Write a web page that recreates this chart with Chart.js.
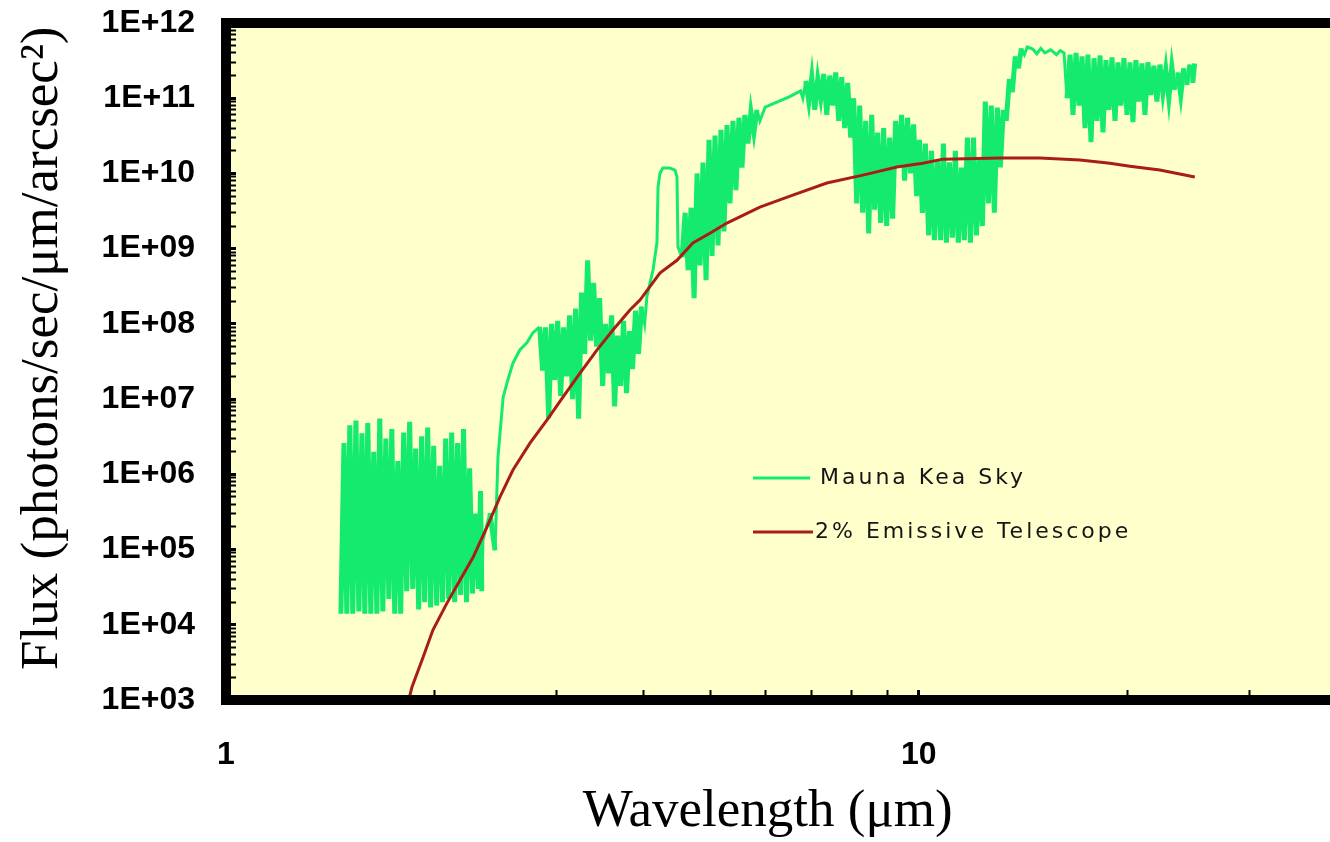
<!DOCTYPE html>
<html><head><meta charset="utf-8">
<script src="https://cdn.jsdelivr.net/npm/chart.js@4.4.1/dist/chart.umd.min.js"></script>
<style>
html,body{margin:0;padding:0;background:#fff;overflow:hidden;width:1330px;height:842px}
#wrap{width:1330px;height:842px;overflow:hidden;position:relative}
canvas{display:block}
</style></head><body>
<div id="wrap"><canvas id="c" width="1340" height="842"></canvas></div>
<script>
// ---- data ----
const skyWavelength = [
1.465,1.480,1.494,1.509,1.524,1.540,1.555,1.571,1.586,1.602,1.618,1.634,1.651,1.667,1.684,1.701,1.718,1.735,1.752,1.770,
1.787,1.805,1.823,1.841,1.860,1.878,1.897,1.916,1.935,1.955,1.974,1.994,2.014,2.034,2.054,2.075,2.096,2.117,2.138,2.159,
2.181,2.202,2.224,2.247,2.269,2.292,2.315,2.330,2.340,2.349,2.404,2.445,2.469,2.512,2.544,2.594,2.655,2.718,2.772,2.836,
2.864,2.893,2.922,2.951,2.981,3.011,3.041,3.071,3.102,3.133,3.164,3.196,3.228,3.260,3.293,3.326,3.359,3.393,3.427,3.461,
3.496,3.531,3.566,3.602,3.638,3.674,3.711,3.748,3.785,3.823,3.861,3.900,3.939,3.978,4.020,4.050,4.133,4.188,4.203,4.229,
4.270,4.372,4.446,4.476,4.491,4.553,
4.599,4.645,4.691,4.738,4.785,4.833,4.881,4.930,4.979,5.029,5.079,5.130,5.181,5.233,5.285,5.338,5.391,5.445,5.500,5.555,
5.610,5.666,5.723,5.780,5.838,5.896,6.000,6.300,6.500,6.750,
6.800,6.868,6.937,7.006,7.076,7.147,7.218,7.290,7.363,7.437,7.511,7.586,7.662,7.739,7.816,7.894,7.973,
8.053,8.134,8.215,8.297,8.380,8.464,8.549,8.634,8.720,8.808,8.896,8.985,9.075,9.165,9.257,9.350,9.443,9.538,9.633,9.729,
9.827,9.925,10.02,10.12,10.22,10.33,10.43,10.53,10.64,10.75,10.85,10.96,11.07,11.18,11.29,11.40,11.52,11.63,11.75,11.87,
11.99,12.11,12.23,12.35,12.47,12.60,12.72,12.85,12.98,13.11,13.24,13.37,13.51,13.64,13.78,13.92,14.06,14.20,14.34,14.60,
14.80,15.00,15.20,15.50,15.80,16.00,
16.20,16.36,16.53,16.69,16.86,17.03,17.20,17.37,17.54,17.72,17.90,18.08,18.26,18.44,18.62,18.81,19.00,19.19,19.38,19.57,
19.77,19.97,20.17,20.37,20.57,20.78,20.99,21.20,21.41,21.62,21.84,22.06,22.28,22.50,22.72,22.95,23.18,23.41,23.65,23.88,
24.12,24.36,24.61,24.85,25.00
];
const skyFlux = [
1.4e4,2.6e6,1.4e4,4.5e6,1.4e4,5.2e6,1.5e4,3.5e6,1.4e4,4.8e6,1.4e4,2.0e6,1.4e4,5.5e6,1.5e4,3.0e6,2.2e4,4.0e6,1.4e4,1.5e6,
1.4e4,3.6e6,2.8e4,5.0e6,3.0e4,2.2e6,1.6e4,3.2e6,2.0e4,4.2e6,1.7e4,2.4e6,1.8e4,1.3e6,2.0e4,3.0e6,2.2e4,3.6e6,2.0e4,2.6e6,
2.5e4,4.0e6,2.0e4,1.2e6,2.6e4,3.0e5,3.0e4,6.0e5,2.8e4,1.33e5,3.05e5,9.8e4,1.7e6,1.06e7,1.63e7,3.0e7,4.5e7,5.6e7,7.6e7,9.1e7,
2.4e7,9.0e7,5.6e6,1.0e8,1.8e7,1.1e8,1.1e7,9.0e7,2.0e7,1.3e8,1.0e7,1.6e8,5.5e6,2.6e8,4.0e7,7.0e8,6.0e7,3.5e8,5.0e7,2.2e8,
1.5e7,1.0e8,2.2e7,1.3e8,8.0e6,7.0e7,1.5e7,1.1e8,1.2e7,8.0e7,2.5e7,1.5e8,4.0e7,1.7e8,1.0e8,2.3e8,5.2e8,1.2e9,6.6e9,1.0e10,
1.18e10,1.18e10,1.11e10,9.0e9,1.05e9,7.7e8,
3.0e9,5.2e8,3.5e9,2.2e8,1.0e10,6.0e8,1.4e10,3.8e8,2.8e10,8.0e8,3.2e10,1.1e9,3.8e10,1.7e9,4.4e10,4.0e9,5.0e10,6.0e9,5.5e10,1.2e10,
6.0e10,2.5e10,6.5e10,3.5e10,7.0e10,5.0e10,7.6e10,9.2e10,1.04e11,1.25e11,
1.0e11,1.7e11,9.0e10,1.9e11,7.0e10,1.8e11,1.0e11,2.1e11,6.0e10,2.0e11,8.0e10,2.2e11,5.0e10,1.9e11,4.0e10,1.6e11,3.0e10,
1.0e11,4.0e9,8.0e10,3.0e9,5.0e10,1.6e9,6.0e10,3.3e9,3.5e10,2.2e9,4.0e10,2.0e9,3.0e10,2.5e9,5.0e10,1.2e10,6.0e10,8.0e9,5.5e10,1.0e10,
4.5e10,5.0e9,2.8e10,3.0e9,2.5e10,1.5e9,2.0e10,1.3e9,1.5e10,1.3e9,2.5e10,1.2e9,1.4e10,1.4e9,2.0e10,1.2e9,1.2e10,1.3e9,3.0e10,1.2e9,
3.0e10,1.5e9,1.5e10,2.0e9,9.0e10,4.0e9,8.0e10,3.0e9,7.5e10,1.2e10,7.0e10,5.0e10,1.8e11,1.2e11,3.6e11,2.5e11,4.6e11,3.8e11,4.8e11,4.5e11,
3.9e11,4.6e11,4.0e11,4.4e11,3.8e11,4.3e11,
4.0e11,1.0e11,3.8e11,6.0e10,4.0e11,8.0e10,3.6e11,4.0e10,3.8e11,2.6e10,3.4e11,5.0e10,3.7e11,3.5e10,3.2e11,7.0e10,3.5e11,5.0e10,3.0e11,8.0e10,
3.4e11,6.0e10,3.0e11,4.8e10,3.2e11,9.0e10,2.9e11,6.0e10,3.0e11,1.1e11,2.7e11,9.0e10,2.8e11,1.2e11,2.4e11,1.0e11,2.6e11,1.3e11,2.2e11,1.1e11,
2.5e11,1.5e11,2.8e11,1.6e11,2.9e11
];
const telescopeWavelength = [1.83,1.855,1.925,1.989,2.084,2.176,2.273,2.380,2.485,2.595,2.746,2.905,3.064,3.243,3.430,3.618,3.828,3.958,4.229,4.476,
4.719,4.994,5.284,5.896,6.578,7.365,8.303,9.296,10.13,10.83,13.09,14.95,17.08,18.87,20.16,22.27,25.02];
const telescopeFlux = [9.0e2,1.48e3,3.7e3,8.5e3,1.94e4,3.9e4,7.9e4,1.99e5,4.98e5,1.14e6,2.6e6,5.26e6,1.06e7,2.22e7,4.49e7,8.3e7,1.53e8,2.07e8,4.74e8,7.0e8,
1.19e9,1.6e9,2.19e9,3.57e9,5.16e9,7.45e9,9.5e9,1.22e10,1.37e10,1.55e10,1.6e10,1.6e10,1.51e10,1.37e10,1.25e10,1.11e10,8.95e9];
const seriesLabels = ['Mauna Kea Sky', '2% Emissive Telescope'];
const xTickValues = [1, 10];
const xTickLabels = ['1', '10'];
const yTickValues = [1e3,1e4,1e5,1e6,1e7,1e8,1e9,1e10,1e11,1e12];
const yTickLabels = ['1E+03','1E+04','1E+05','1E+06','1E+07','1E+08','1E+09','1E+10','1E+11','1E+12'];
const minorSteps = [2,3,4,5,6,7,8,9];
const xMin = 1, xMax = 40, yMin = 1e3, yMax = 1e12;

function toPoints(xs, ys){ return xs.map((x,i)=>({x:x, y:ys[i]})); }
function buildTicks(decades, max){
  const out=[];
  decades.forEach(d=>{ out.push({value:d, major:true}); minorSteps.forEach(m=>{ if(d*m<=max*1.0000001 && !decades.includes(d*m)) out.push({value:d*m, major:false}); }); });
  return out.filter(t=>t.value<=max*1.0000001).sort((a,b)=>a.value-b.value);
}
function labelFor(values, labels, v){
  const i = values.findIndex(t=>Math.abs(t-v)/t<1e-6);
  return i>=0 ? labels[i] : '';
}
const xTicks = buildTicks([1,10], xMax);
const yTicks = buildTicks(yTickValues.slice(0,-1), yMax).concat([{value:1e12, major:true}]);

// a segment belongs to the dense "noise" band when it reverses direction on both sides
function zigzagWidth(ctx){
  const d = ctx.chart.data.datasets[ctx.datasetIndex].data;
  const i = ctx.p0DataIndex, j = ctx.p1DataIndex;
  const dl = (a,b)=> Math.log10(d[b].y) - Math.log10(d[a].y);
  const cur = dl(i,j);
  const prev = i>0 ? dl(i-1,i) : -cur;
  const next = j<d.length-1 ? dl(j,j+1) : -cur;
  const rev = (prev*cur<0) && (next*cur<0);
  return (rev && Math.abs(cur)>0.25) ? 5 : 3;
}

const tickFont = {family:'"Liberation Sans", Arial, sans-serif', size:32, weight:'bold'};
const titleFont = {family:'"Liberation Serif", "Times New Roman", serif', size:53, weight:'normal', lineHeight:1};

const framePlugin = {
  id:'frame',
  beforeDraw(chart){
    const {ctx, chartArea:a} = chart;
    ctx.save();
    ctx.fillStyle='#ffffff'; ctx.fillRect(0,0,chart.width,chart.height);
    ctx.fillStyle='#FFFFCC'; ctx.fillRect(a.left,a.top,a.right-a.left,a.bottom-a.top);
    ctx.restore();
  },
  afterDraw(chart){
    const {ctx, chartArea:a} = chart;
    ctx.save();
    ctx.strokeStyle='#000'; ctx.lineWidth=10;
    ctx.beginPath(); ctx.moveTo(a.left-5,a.top); ctx.lineTo(a.right+5,a.top); ctx.stroke();
    // legend inside the plot
    const rows=[{y:478,x1:753,x2:810,tx:820},{y:532,x1:753,x2:813,tx:815}];
    chart.data.datasets.forEach((ds,i)=>{
      const r=rows[i];
      ctx.strokeStyle=ds.borderColor; ctx.lineWidth=3;
      ctx.beginPath(); ctx.moveTo(r.x1,r.y); ctx.lineTo(r.x2,r.y); ctx.stroke();
      ctx.fillStyle='#151515'; ctx.font='22px "DejaVu Sans", sans-serif';
      try{ ctx.letterSpacing='3px'; }catch(e){}
      ctx.textBaseline='middle'; ctx.textAlign='left';
      ctx.fillText(ds.label, r.tx, r.y);
    });
    ctx.restore();
  }
};

new Chart(document.getElementById('c'), {
  type:'scatter',
  data:{ datasets:[
    {label:seriesLabels[0], data:toPoints(skyWavelength, skyFlux), showLine:true, borderColor:'#14EB6E', borderWidth:3, pointRadius:0, tension:0, order:1, clip:-5,
      segment:{borderWidth:zigzagWidth}},
    {label:seriesLabels[1], data:toPoints(telescopeWavelength, telescopeFlux), showLine:true, borderColor:'#A81E14', borderWidth:3, pointRadius:0, tension:0, order:0, clip:-5}
  ]},
  options:{
    responsive:false, animation:false, devicePixelRatio:1,
    layout:{padding:{left:0,top:23,right:4,bottom:0}},
    plugins:{legend:{display:false}, tooltip:{enabled:false}},
    scales:{
      x:{type:'logarithmic', position:'bottom', min:xMin, max:xMax,
        afterBuildTicks(s){ s.ticks = xTicks.map(t=>({value:t.value, major:t.major})); },
        afterFit(s){ s.height = 142; s.paddingLeft = 0; s.paddingRight = 0; s.paddingTop = 0; s.paddingBottom = 0; },
        grid:{display:true, drawOnChartArea:false, drawTicks:true, tickLength:-10, tickColor:'#000',
          tickWidth:(c)=> (c.tick && xTickValues.includes(c.tick.value)) ? 3 : 2},
        border:{display:true, width:10, color:'#000'},
        ticks:{autoSkip:false, maxRotation:0, minRotation:0, padding:46, color:'#000', font:tickFont,
          callback:(v)=>labelFor(xTickValues, xTickLabels, v)},
        title:{display:true, text:'Wavelength (\u03bcm)\u2002', color:'#000', font:titleFont, padding:{top:0,bottom:3}}
      },
      y:{type:'logarithmic', position:'left', min:yMin, max:yMax,
        afterBuildTicks(s){ s.ticks = yTicks.map(t=>({value:t.value, major:t.major})); },
        afterFit(s){ s.width = 226; s.paddingLeft = 0; s.paddingRight = 0; s.paddingTop = 0; s.paddingBottom = 0; },
        grid:{display:true, drawOnChartArea:false, drawTicks:true, tickLength:-10, tickColor:'#000',
          tickWidth:(c)=> (c.tick && yTickValues.includes(c.tick.value)) ? 3 : 2},
        border:{display:true, width:10, color:'#000'},
        ticks:{autoSkip:false, padding:41, color:'#000', font:tickFont,
          callback:(v)=>labelFor(yTickValues, yTickLabels, v)},
        title:{display:true, text:'\u2002Flux (photons/sec/\u03bcm/arcsec\u00b2)', color:'#000', font:titleFont, padding:{top:17,bottom:0}}
      }
    }
  },
  plugins:[framePlugin]
});
</script>
</body></html>
